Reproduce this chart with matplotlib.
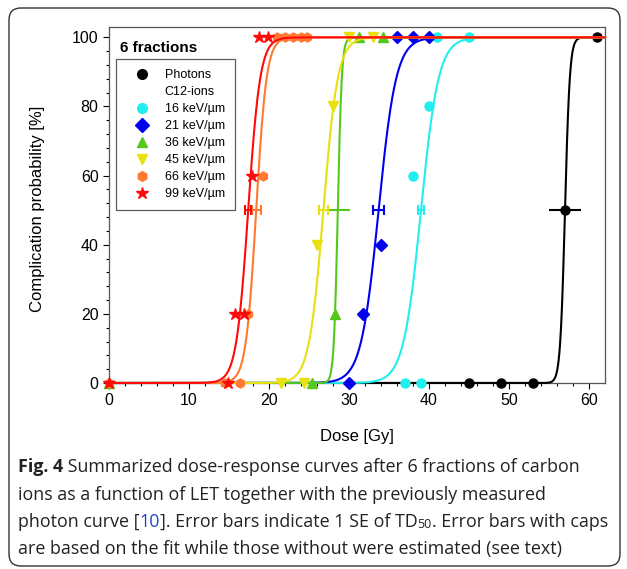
import numpy as np
import matplotlib.pyplot as plt
from matplotlib.lines import Line2D
from matplotlib.patches import FancyBboxPatch
from matplotlib.transforms import IdentityTransform

plt.rcParams['font.family'] = ['Liberation Sans', 'DejaVu Sans']

# ---- data ----
labels = ["Photons", "16 keV/\u00b5m", "21 keV/\u00b5m", "36 keV/\u00b5m",
          "45 keV/\u00b5m", "66 keV/\u00b5m", "99 keV/\u00b5m"]
colors = ["#000000", "#22EEEE", "#0000EE", "#55C81E", "#E8E010", "#FF7A30", "#FF0A0A"]
markers = ["o", "o", "D", "^", "v", "h", "*"]

photon_dose = [45, 49, 53, 61]
photon_resp = [0, 0, 0, 100]
let16_dose = [37, 39, 38, 40, 41, 45]
let16_resp = [0, 0, 60, 80, 100, 100]
let21_dose = [30, 31.8, 34, 36, 38, 40]
let21_resp = [0, 20, 40, 100, 100, 100]
let36_dose = [0, 25.4, 28.3, 31.3, 34.3]
let36_resp = [0, 0, 20, 100, 100]
let45_dose = [21.5, 24.4, 26, 28, 30, 33]
let45_resp = [0, 0, 40, 80, 100, 100]
let66_dose = [0, 14.5, 16.4, 17.4, 19.3, 21, 22, 23, 24, 24.8]
let66_resp = [0, 0, 0, 20, 60, 100, 100, 100, 100, 100]
let99_dose = [0, 14.9, 15.8, 16.9, 17.9, 18.8, 19.9]
let99_resp = [0, 0, 20, 20, 60, 100, 100]

doses = [photon_dose, let16_dose, let21_dose, let36_dose, let45_dose, let66_dose, let99_dose]
resps = [photon_resp, let16_resp, let21_resp, let36_resp, let45_resp, let66_resp, let99_resp]

# fitted TD50, its SE and curve width
td50 = [57.0, 39.0, 33.7, 28.6, 26.8, 18.4, 17.4]
td50_se = [2.0, 0.4, 0.7, 1.5, 0.6, 0.55, 0.4]
has_caps = [False, True, True, False, True, True, True]
width = [0.3, 1.1, 1.1, 0.25, 0.9, 0.65, 0.75]

fig = plt.figure(figsize=(6.27, 5.69), dpi=100)
ax = fig.add_axes([109/627, 1 - 383/569, 496/627, 356/569])

d = np.linspace(0, 62, 1500)
for i in range(len(labels)):
    z = 3 + i
    ax.plot(doses[i], resps[i], linestyle="none", marker=markers[i], color=colors[i],
            markersize=9 if markers[i] == "*" else 6.5, clip_on=False, zorder=z)
    curve = 100 / (1 + np.exp(-(d - td50[i]) / width[i]))
    ax.plot(d, curve, color=colors[i], lw=1.5, clip_on=False, zorder=z)
    ax.errorbar(td50[i], 50, xerr=td50_se[i], color=colors[i], lw=1.5,
                fmt="o" if i == 0 else "none", markersize=6.5,
                capsize=3.5 if has_caps[i] else 0, capthick=1.5, zorder=z)

ax.set_xlim(0, 62)
ax.set_ylim(0, 103)
ax.set_xticks(np.arange(0, 61, 10))
ax.set_xticks(np.arange(0, 62, 2), minor=True)
ax.set_yticks(np.arange(0, 101, 20))
ax.set_yticks(np.arange(0, 103, 4), minor=True)
ax.tick_params(which="both", direction="out", labelsize=11.5, width=0.8)
ax.tick_params(which="major", length=4)
ax.tick_params(which="minor", length=2.5)
for s in ax.spines.values():
    s.set_color("#555555")
    s.set_linewidth(0.9)

ax.set_xlabel("Dose [Gy]", fontsize=12)
ax.set_ylabel("Complication probability [%]", fontsize=12)
ax.xaxis.set_label_coords(0.5, -0.13)
ax.yaxis.set_label_coords(-0.129, 0.49)

ax.text(0.022, 0.94, "6 fractions", transform=ax.transAxes, fontsize=11,
        fontweight="bold", va="center", ha="left")

handles = [Line2D([], [], ls="none", marker=markers[0], color=colors[0], markersize=7),
           Line2D([], [], ls="none")]
for i in range(1, len(labels)):
    handles.append(Line2D([], [], ls="none", marker=markers[i], color=colors[i],
                          markersize=9 if markers[i] == "*" else 7))
leg = ax.legend(handles, [labels[0], "C12-ions"] + labels[1:], loc="upper left",
                bbox_to_anchor=(0.014, 0.91), borderaxespad=0, fontsize=9,
                frameon=True, fancybox=False, edgecolor="#333333",
                handlelength=2.5, handletextpad=0.6, labelspacing=0.4,
                borderpad=0.8)
leg.get_frame().set_linewidth(0.9)
leg.set_zorder(20)

# figure frame
fig.patches.append(FancyBboxPatch((9, 3), 611, 558, boxstyle="round,pad=0,rounding_size=12",
                                  transform=IdentityTransform(), fill=False,
                                  edgecolor="#333333", lw=1.0))

# caption
cap_font = ["Open Sans", "DejaVu Sans"]
cap_size = 12.9
renderer = fig.canvas.get_renderer()


def draw_runs(x_px, y_px, runs):
    x = x_px / 627
    for txt, opts in runs:
        t = fig.text(x, 1 - (y_px - opts.get("dy", 0)) / 569, txt, family=cap_font,
                     fontsize=opts.get("size", cap_size), color=opts.get("color", "#222222"),
                     fontweight=opts.get("weight", "normal"), va="center", ha="left")
        x += t.get_window_extent(renderer).width / fig.bbox.width


draw_runs(18, 467, [("Fig. 4", {"weight": "bold"}),
                    (" Summarized dose-response curves after 6 fractions of carbon", {})])
draw_runs(18, 495, [("ions as a function of LET together with the previously measured", {})])
draw_runs(18, 522, [("photon curve [", {}), ("10", {"color": "#2244CC"}),
                    ("]. Error bars indicate 1 SE of TD", {}),
                    ("50", {"size": 9, "dy": -3}),
                    (". Error bars with caps", {})])
draw_runs(18, 549, [("are based on the fit while those without were estimated (see text)", {})])

fig.savefig("out.png", dpi=100)
